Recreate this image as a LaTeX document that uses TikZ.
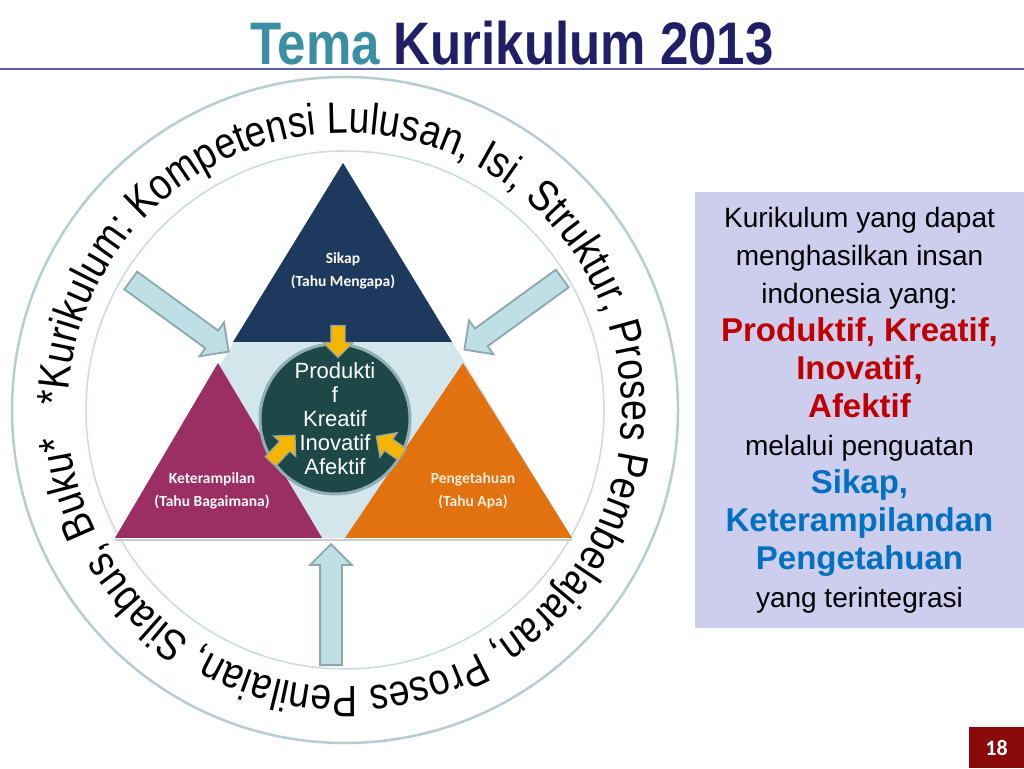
\documentclass[tikz,border=0pt]{standalone}
\usepackage{fontspec}
\setmainfont{Liberation Sans}
\newfontfamily\titlefont{Liberation Sans}[FakeStretch=0.85]
\newfontfamily\ringfont{Liberation Sans}[FakeStretch=0.85]
\newfontfamily\labelfont{Carlito}
\usetikzlibrary{shapes.arrows, decorations.text}

\definecolor{temateal}{HTML}{3A8FA2}
\definecolor{titlenavy}{HTML}{1F1E66}
\definecolor{ruleblue}{HTML}{5B5BB8}
\definecolor{ringline}{HTML}{B7CDD4}
\definecolor{innerline}{HTML}{C9DCE1}
\definecolor{basetri}{HTML}{D3E6EC}
\definecolor{sikapblue}{HTML}{1D3A5E}
\definecolor{ketmagenta}{HTML}{9B2F63}
\definecolor{pengorange}{HTML}{E2710F}
\definecolor{coreteal}{HTML}{1E4748}
\definecolor{coreline}{HTML}{8FAFB4}
\definecolor{arrowfill}{HTML}{BEDFE5}
\definecolor{arrowline}{HTML}{8CA8AD}
\definecolor{yellowarrow}{HTML}{F6B500}
\definecolor{boxlavender}{HTML}{CDCDEE}
\definecolor{boxred}{HTML}{C00000}
\definecolor{boxblue}{HTML}{0070C0}
\definecolor{pagered}{HTML}{8A0A0A}

\newcommand{\redword}[1]{{\color{boxred}\bfseries\fontsize{33}{38}\selectfont #1}}
\newcommand{\blueword}[1]{{\color{boxblue}\bfseries\fontsize{33}{38}\selectfont #1}}

\begin{document}
\begin{tikzpicture}[
    x=1pt, y=1pt,
    trilabel/.style={
      font=\labelfont\bfseries\fontsize{15.5}{23}\selectfont,
      align=center,
      inner sep=0pt
    },
    core/.style={
      circle,
      draw=coreline,
      line width=3pt,
      fill=coreteal,
      text=white,
      minimum size=150pt,
      inner sep=0pt,
      align=center,
      font=\fontsize{22}{24}\selectfont
    },
    bigarrow/.style={
      single arrow,
      draw=arrowline,
      fill=arrowfill,
      line width=1.8pt,
      minimum height=121pt,
      inner xsep=0pt,
      inner ysep=10pt,
      single arrow head extend=10pt,
      single arrow tip angle=90,
      anchor=tail
    },
    smallarrow/.style={
      single arrow,
      draw=arrowline,
      fill=yellowarrow,
      line width=1.2pt,
      minimum height=32pt,
      inner xsep=0pt,
      inner ysep=6.5pt,
      single arrow head extend=8pt,
      single arrow tip angle=90,
      anchor=tail
    },
    infobox/.style={
      rectangle,
      fill=boxlavender,
      minimum width=329pt,
      minimum height=436pt,
      inner sep=0pt,
      align=center,
      font=\fontsize{28}{38}\selectfont
    }
  ]
    \useasboundingbox (0,0) rectangle (1024,768);
    \fill[white] (0,0) rectangle (1024,768);

    \node[anchor=base, text=titlenavy, font=\titlefont\bfseries\fontsize{60}{60}\selectfont] (title) at (512,703) {\textcolor{temateal}{Tema} Kurikulum 2013};
    \draw[ruleblue, line width=2pt] (0,699) -- (1024,699);

    % ring with the curriculum text
    \coordinate (c) at (345,358);
    \draw[ringline, line width=2.5pt, fill=white] (c) circle[radius=333pt];
    \draw[innerline, line width=1.5pt] (c) circle[radius=259pt];
    \path[decorate, decoration={text along path, text align={fit to path},
        text={|\ringfont\fontsize{44}{44}\selectfont|*Kurikulum: Kompetensi Lulusan, Isi, Struktur, Proses Pembelajaran, Proses Penilaian, Silabus, Buku*}}]
      ([shift={(179:277pt)}]c) arc[start angle=179, end angle=-174.5, radius=277pt];

    % triangles
    \fill[basetri] (343,605) -- (115,230) -- (572,230) -- cycle;
    \fill[sikapblue] (343,605) -- (233,426) -- (452,426) -- cycle;
    \fill[ketmagenta] (218,405) -- (115,230) -- (322,230) -- cycle;
    \fill[pengorange] (463,405) -- (345,230) -- (572,230) -- cycle;
    \draw[gray!40, line width=1.5pt] (115,228) -- (572,228);

    \node[trilabel, text=white!92!pink] (sikaplbl) at (343,497) {Sikap\\(Tahu Mengapa)};
    \node[trilabel, text=white!90!pink] (ketlbl) at (212,277) {Keterampilan\\(Tahu Bagaimana)};
    \node[trilabel, text=white!85!orange] (penglbl) at (473,277) {Pengetahuan\\(Tahu Apa)};

    \node[core] (core) at (335,349) {Produkti\\f\\Kreatif\\Inovatif\\Afektif};

    \node[smallarrow, rotate=-90] (ytop) at (338,443) {};
    \node[smallarrow, rotate=47, minimum height=36pt] (yleft) at (270,306) {};
    \node[smallarrow, rotate=145] (yright) at (403,313) {};

    \node[bigarrow, rotate=-36] (arrowleft) at (130,488) {};
    \node[bigarrow, rotate=-144] (arrowright) at (563,490) {};
    \node[bigarrow, rotate=90] (arrowbottom) at (331,102) {};

    \node[infobox] (info) at (859.5,358) {Kurikulum yang dapat\\menghasilkan insan\\indonesia yang:\\
      \redword{Produktif, Kreatif,}\\\redword{Inovatif,}\\\redword{Afektif}\\
      melalui penguatan\\
      \blueword{Sikap,}\\\blueword{Keterampilandan}\\\blueword{Pengetahuan}\\
      yang terintegrasi};

    \node[fill=pagered, text=white, minimum width=55pt, minimum height=41pt, inner sep=0pt,
      font=\labelfont\bfseries\fontsize{22}{22}\selectfont] (page) at (996.5,20.5) {18};
  \end{tikzpicture}
\end{document}
